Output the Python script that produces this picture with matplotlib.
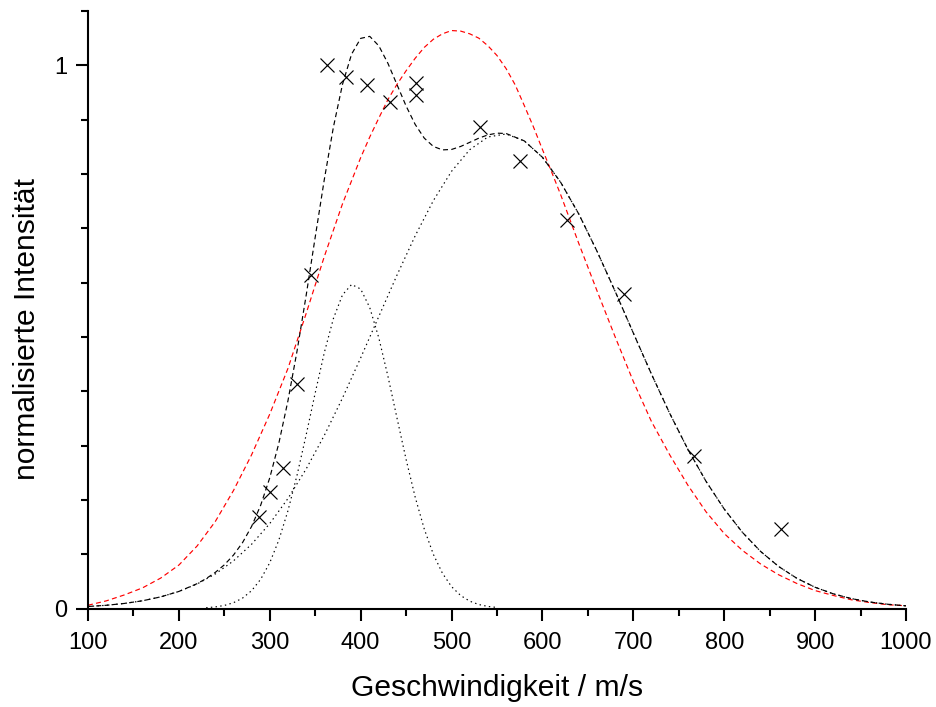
import matplotlib
matplotlib.use("Agg")
import matplotlib.pyplot as plt
from matplotlib.ticker import MultipleLocator, FixedLocator

plt.rcParams['font.family'] = ['Liberation Sans', 'DejaVu Sans']

# measured data points
v_meas = [288.1, 300.6, 314.2, 329.6, 345.4, 363.3, 383.9, 406.6, 432.3,
          460.5, 460.5, 531.3, 575.3, 627.3, 690.1, 766.7, 862.5]
I_meas = [0.169, 0.214, 0.258, 0.413, 0.614, 1.000, 0.979, 0.964, 0.933,
          0.967, 0.946, 0.886, 0.824, 0.715, 0.579, 0.281, 0.147]

# red dashed curve (single distribution)
v_red = list(range(100, 381, 20)) + list(range(400, 621, 10)) + list(range(640, 1001, 20))
I_red = [0.006, 0.014, 0.025, 0.038, 0.056, 0.080, 0.115, 0.160, 0.217, 0.283,
         0.358, 0.442, 0.543, 0.648, 0.745,
         0.830, 0.868, 0.903, 0.937, 0.965, 0.990, 1.013, 1.033, 1.048, 1.058,
         1.064, 1.063, 1.058, 1.050, 1.036, 1.018, 0.994, 0.964, 0.926, 0.887,
         0.845, 0.804, 0.762,
         0.672, 0.585, 0.500, 0.418, 0.344, 0.283, 0.227, 0.178, 0.138, 0.107,
         0.082, 0.062, 0.046, 0.033, 0.024, 0.016, 0.011, 0.007, 0.005]

# broad dotted component
v_broad = list(range(100, 1001, 20))
I_broad = [0.0037, 0.0059, 0.0093, 0.0142, 0.0214, 0.0314, 0.0451, 0.0635, 0.0876, 0.1183,
           0.1564, 0.2025, 0.2568, 0.3187, 0.3875, 0.4614, 0.5378, 0.6139, 0.6862, 0.7510,
           0.8049, 0.8447, 0.8681, 0.8736, 0.8609, 0.8307, 0.7848, 0.7262, 0.6579, 0.5838,
           0.5071, 0.4313, 0.3593, 0.2931, 0.2341, 0.1831, 0.1402, 0.1051, 0.0772, 0.0555,
           0.0391, 0.0270, 0.0182, 0.0120, 0.0078, 0.0049]

# narrow dotted component
v_narrow = list(range(230, 551, 10))
I_narrow = [0.0014, 0.0029, 0.0056, 0.0106, 0.0191, 0.0328, 0.0538, 0.0843, 0.1261, 0.1800,
            0.2454, 0.3194, 0.3970, 0.4711, 0.5338, 0.5774, 0.5965, 0.5882, 0.5539, 0.4980,
            0.4275, 0.3504, 0.2743, 0.2049, 0.1462, 0.0996, 0.0648, 0.0402, 0.0239, 0.0135,
            0.0073, 0.0038, 0.0019]

# black dashed total curve
v_total = [100, 120, 140, 160, 180, 200, 220] + list(range(230, 551, 10)) + list(range(560, 1001, 20))
I_total = [0.0037, 0.0059, 0.0093, 0.0142, 0.0214, 0.0314, 0.0457,
           0.0551, 0.0664, 0.0804, 0.0982, 0.1212, 0.1511, 0.1902, 0.2407, 0.3045, 0.3825,
           0.4740, 0.5762, 0.6838, 0.7898, 0.8862, 0.9649, 1.0205, 1.0496, 1.0533, 1.0358,
           1.0036, 0.9643, 0.9250, 0.8911, 0.8659, 0.8506, 0.8443, 0.8451, 0.8506, 0.8582,
           0.8659, 0.8719, 0.8751,
           0.8745, 0.8609, 0.8307, 0.7848, 0.7262, 0.6579, 0.5838, 0.5071, 0.4313, 0.3593,
           0.2931, 0.2341, 0.1831, 0.1402, 0.1051, 0.0772, 0.0555, 0.0391, 0.0270, 0.0182,
           0.0120, 0.0078, 0.0049]

x_ticks = [100, 200, 300, 400, 500, 600, 700, 800, 900, 1000]
y_ticks = [0, 1]
y_ticklabels = ['0', '1']

fig = plt.figure(figsize=(9.37, 7.07), dpi=100)
ax = fig.add_axes([88 / 937, 98.5 / 707, 818 / 937, 597.5 / 707])

lw = 0.85
dash = (0, (4.2, 2.8))
dot = (0, (1.2, 2.8))
ax.plot(v_red, I_red, color='#ff0000', lw=lw, linestyle=dash, zorder=2)
ax.plot(v_broad, I_broad, color='black', lw=lw, linestyle=dot, zorder=2)
ax.plot(v_narrow, I_narrow, color='black', lw=lw, linestyle=dot, zorder=2)
ax.plot(v_total, I_total, color='black', lw=lw, linestyle=dash, zorder=3)
ax.plot(v_meas, I_meas, linestyle='none', marker='x', markersize=10.5,
        markeredgewidth=0.85, color='black', zorder=4)

ax.set_xlim(100, 1000)
ax.set_ylim(0, 1.1)

ax.xaxis.set_major_locator(FixedLocator(x_ticks))
ax.xaxis.set_minor_locator(MultipleLocator(50))
ax.yaxis.set_major_locator(FixedLocator(y_ticks))
ax.set_yticklabels(y_ticklabels)
ax.yaxis.set_minor_locator(MultipleLocator(0.1))

for s in ['top', 'right']:
    ax.spines[s].set_visible(False)
for s in ['left', 'bottom']:
    ax.spines[s].set_linewidth(1.5)

ax.tick_params(which='major', direction='out', length=8.6, width=1.5, labelsize=17)
ax.tick_params(which='minor', direction='out', length=5.0, width=1.5)
ax.tick_params(axis='x', which='major', pad=8.5)
ax.tick_params(axis='y', which='major', pad=6.0)

ax.set_xlabel('Geschwindigkeit / m/s', fontsize=21.6, labelpad=14)
ax.set_ylabel('normalisierte Intensität', fontsize=21.6, labelpad=10)
ax.yaxis.label.set_y(0.4686)

fig.savefig('out.png', dpi=100, facecolor='white')
